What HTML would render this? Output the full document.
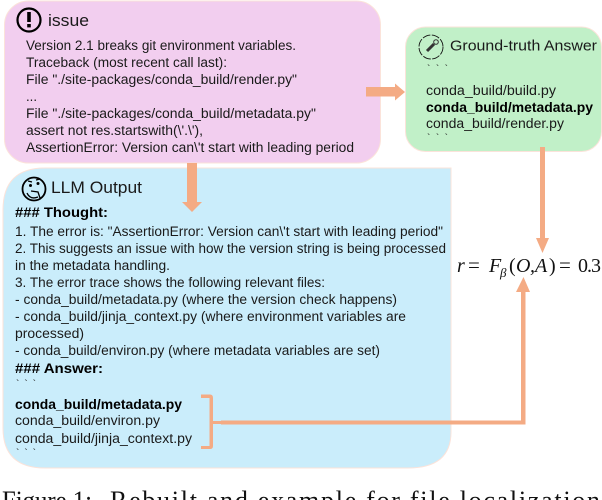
<!DOCTYPE html>
<html><head><meta charset="utf-8"><style>
html,body{margin:0;padding:0;background:#fff;width:602px;height:500px;overflow:hidden}
svg{display:block}
.s{font-family:"Liberation Sans",sans-serif;font-size:13.5px;fill:#1a1a1a}
.b{font-weight:bold;fill:#000}
.h{font-family:"Liberation Sans",sans-serif;font-size:17px;fill:#1a1a1a}
.t{font-family:"Liberation Sans",sans-serif;font-size:10px;fill:#222}
.m{font-family:"Liberation Serif",serif;fill:#111}
</style></head><body>
<svg width="602" height="500" viewBox="0 0 602 500" xmlns="http://www.w3.org/2000/svg">
<rect x="4.5" y="1" width="376" height="162" rx="24" fill="#f2ceef" stroke="#fbe3da" stroke-width="1"/>
<rect x="405.5" y="27" width="196" height="124.500" rx="20" fill="#c1f0c8" stroke="#fbe3da" stroke-width="1"/>
<path d="M45 168H451V432Q451 468 408 468H45Q3 468 3 428V210Q3 168 45 168Z" fill="#caedfb" stroke="#fbe3da" stroke-width="1"/>

<g fill="#f4ab84">
<path d="M366 87H395V83.500L405 92L395 100.500V96.500H366Z"/>
<path d="M187 163H197V202H202L192 212L182 202H187Z"/>
<path d="M540 147H545V238H549L542.500 253L536 238H540Z"/>
<path d="M221 420.500H521V292H516L523.500 277L530 292H525.500V424.500H221Z"/>
<path d="M201 394.500H210Q213 394.500 213 398V421H221V424H213V446Q213 449 210 449H201V446H209.500V398H201Z"/>
</g>

<!-- issue icon -->
<circle cx="29" cy="20" r="11.500" fill="none" stroke="#000" stroke-width="2.200"/>
<rect x="27.200" y="12" width="3.600" height="10" fill="#000"/>
<rect x="27.200" y="24" width="3.600" height="3.400" fill="#000"/>
<text class="h" x="48" y="26" textLength="41" lengthAdjust="spacingAndGlyphs">issue</text>
<g class="s">
<text x="26" y="50" textLength="270" lengthAdjust="spacingAndGlyphs">Version 2.1 breaks git environment variables.</text>
<text x="26" y="67" textLength="201" lengthAdjust="spacingAndGlyphs">Traceback (most recent call last):</text>
<text x="26" y="84" textLength="271" lengthAdjust="spacingAndGlyphs">File "./site-packages/conda_build/render.py"</text>
<text x="26" y="101" textLength="11" lengthAdjust="spacingAndGlyphs">...</text>
<text x="26" y="118" textLength="290" lengthAdjust="spacingAndGlyphs">File "./site-packages/conda_build/metadata.py"</text>
<text x="26" y="135" textLength="177" lengthAdjust="spacingAndGlyphs">assert not res.startswith(\'.\'),</text>
<text x="26" y="152" textLength="328" lengthAdjust="spacingAndGlyphs">AssertionError: Version can\'t start with leading period</text>
</g>

<!-- green -->
<circle cx="431" cy="47" r="12" fill="none" stroke="#111" stroke-width="0.900" stroke-dasharray="8 1.500"/>
<path d="M427 51L434 44" stroke="#333" stroke-width="3" fill="none"/>
<circle cx="436" cy="42" r="2.300" fill="none" stroke="#333" stroke-width="1"/>
<text class="h" x="450" y="50.500" textLength="147" lengthAdjust="spacingAndGlyphs" style="font-size:15px">Ground-truth Answer</text>
<text class="t" x="427" y="72" textLength="21">` ` `</text>
<g class="s">
<text x="426" y="95" textLength="130" lengthAdjust="spacingAndGlyphs">conda_build/build.py</text>
<text class="b" x="426" y="112" textLength="167" lengthAdjust="spacingAndGlyphs">conda_build/metadata.py</text>
<text x="426" y="128" textLength="138" lengthAdjust="spacingAndGlyphs">conda_build/render.py</text>
</g>
<text class="t" x="427" y="141" textLength="21">` ` `</text>

<!-- LLM icon -->
<circle cx="34" cy="189" r="11.500" fill="#caedfb" stroke="#000" stroke-width="1.800"/>
<circle cx="30.500" cy="185.500" r="1.500" fill="#000"/><circle cx="38" cy="183.500" r="1.500" fill="#000"/>
<path d="M28 181L32 182M36 180L40 179M27 193Q30 200 38 197M31 191L38 192L40 198" stroke="#000" stroke-width="1.300" fill="none"/>
<text class="h" x="51" y="193" textLength="91" lengthAdjust="spacingAndGlyphs">LLM Output</text>
<g class="s">
<text class="b" x="15" y="217" textLength="93" lengthAdjust="spacingAndGlyphs">### Thought:</text>
<text x="15" y="236" textLength="428" lengthAdjust="spacingAndGlyphs">1. The error is: "AssertionError: Version can\'t start with leading period"</text>
<text x="15" y="253" textLength="431" lengthAdjust="spacingAndGlyphs">2. This suggests an issue with how the version string is being processed</text>
<text x="15" y="270" textLength="155" lengthAdjust="spacingAndGlyphs">in the metadata handling.</text>
<text x="15" y="287" textLength="310" lengthAdjust="spacingAndGlyphs">3. The error trace shows the following relevant files:</text>
<text x="15" y="304" textLength="382" lengthAdjust="spacingAndGlyphs">- conda_build/metadata.py (where the version check happens)</text>
<text x="15" y="321" textLength="391" lengthAdjust="spacingAndGlyphs">- conda_build/jinja_context.py (where environment variables are</text>
<text x="15" y="338" textLength="69" lengthAdjust="spacingAndGlyphs">processed)</text>
<text x="15" y="355" textLength="365" lengthAdjust="spacingAndGlyphs">- conda_build/environ.py (where metadata variables are set)</text>
<text class="b" x="15" y="373" textLength="88" lengthAdjust="spacingAndGlyphs">### Answer:</text>
<text class="b" x="15" y="409" textLength="167" lengthAdjust="spacingAndGlyphs">conda_build/metadata.py</text>
<text x="15" y="425" textLength="145" lengthAdjust="spacingAndGlyphs">conda_build/environ.py</text>
<text x="15" y="443" textLength="177" lengthAdjust="spacingAndGlyphs">conda_build/jinja_context.py</text>
</g>
<text class="t" x="16" y="387" textLength="20">` ` `</text>
<text class="t" x="16" y="456" textLength="20">` ` `</text>

<!-- equation -->
<text class="m" x="457" y="272" font-size="20" font-style="italic">r</text>
<text class="m" x="468" y="272" font-size="21">=</text>
<text class="m" x="489" y="272" font-size="20" font-style="italic">F</text>
<text class="m" x="500" y="277" font-size="13" font-style="italic">β</text>
<text class="m" x="509" y="272" font-size="20">(</text>
<text class="m" x="516" y="272" font-size="20" font-style="italic">O</text>
<text class="m" x="530" y="272" font-size="20" font-style="italic">,</text>
<text class="m" x="535" y="272" font-size="20" font-style="italic">A</text>
<text class="m" x="549" y="272" font-size="20">)</text>
<text class="m" x="559" y="272" font-size="21">=</text>
<text class="m" x="578" y="272" font-size="20" textLength="23">0.3</text>

<!-- caption, clipped by the page bottom -->
<text class="m" x="2" y="509" font-size="26" textLength="90" lengthAdjust="spacingAndGlyphs" fill="#000">Figure 1:</text>
<text class="m" x="110" y="509" font-size="26" textLength="490" fill="#000">Rebuilt and example for file localization</text>
</svg>
</body></html>
